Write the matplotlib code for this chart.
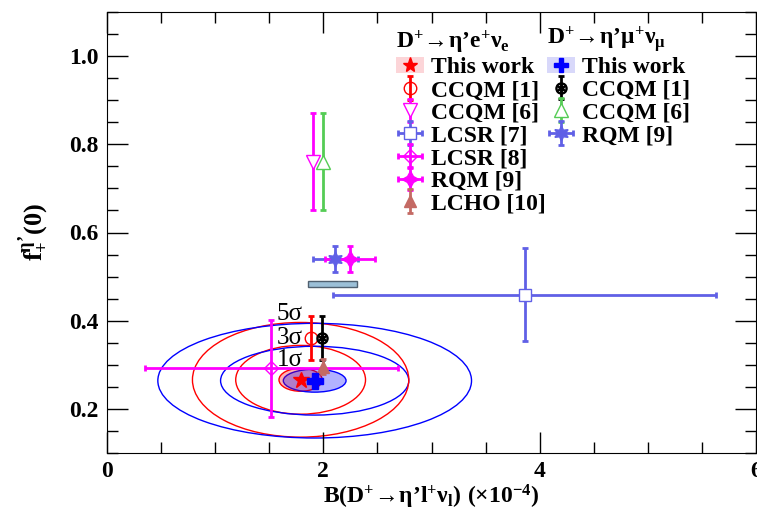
import matplotlib
matplotlib.use('Agg')
import matplotlib.pyplot as plt
from matplotlib.patches import Ellipse, Rectangle, Patch
from matplotlib.lines import Line2D
from matplotlib.ticker import MultipleLocator, FormatStrFormatter

plt.rcParams['font.family'] = ['Liberation Serif', 'DejaVu Serif']
plt.rcParams['mathtext.fontset'] = 'custom'
plt.rcParams['mathtext.rm'] = 'Liberation Serif:bold'
plt.rcParams['mathtext.it'] = 'Liberation Serif:bold'
plt.rcParams['mathtext.bf'] = 'Liberation Serif:bold'

# this work: centre (B, f+) and 1 sigma widths of the contours
tw_e = [1.79, 0.266]
tw_e_sig = [0.20, 0.026]
tw_mu = [1.92, 0.264]
tw_mu_sig = [0.29, 0.026]
n_sigma = [1, 3, 5]
sigma_labels = ['1σ', '3σ', '5σ']
sigma_label_y = [0.311, 0.361, 0.416]

# predictions: x, xerr, y, yerr
ccqm1_e = [1.89, None, 0.36, 0.05]
ccqm6_e = [1.90, None, 0.76, 0.11]
lcsr7_e = [3.86, 1.77, 0.459, 0.105]
lcsr8_e = [1.52, 1.17, 0.292, 0.11]
rqm9_e = [2.245, 0.23, 0.540, 0.029]
lcho10_e = [2.00, None, 0.296, 0.017]
ccqm1_mu = [1.99, None, 0.36, 0.05]
ccqm6_mu = [2.00, None, 0.76, 0.11]
rqm9_mu = [2.11, 0.21, 0.540, 0.029]

# grey band (not in the legend)
band_x = [1.855, 2.315]
band_y = [0.476, 0.490]

magenta = '#ff00ff'
slate = '#6060e6'
fs = 17

fig = plt.figure(figsize=(7.57, 5.12), dpi=100)
ax = fig.add_axes([107/757, 59/512, 649/757, 441/512])

# contours of this work
for n in n_sigma:
    ax.add_patch(Ellipse(tw_e, 2*n*tw_e_sig[0], 2*n*tw_e_sig[1], fill=False,
                         edgecolor='red', lw=1))
    ax.add_patch(Ellipse(tw_mu, 2*n*tw_mu_sig[0], 2*n*tw_mu_sig[1], fill=False,
                         edgecolor='blue', lw=1))
ax.add_patch(Ellipse(tw_e, 2*tw_e_sig[0], 2*tw_e_sig[1], facecolor='red',
                     alpha=0.3, edgecolor='none'))
ax.add_patch(Ellipse(tw_mu, 2*tw_mu_sig[0], 2*tw_mu_sig[1], facecolor='blue',
                     alpha=0.3, edgecolor='none'))
for lab, y in zip(sigma_labels, sigma_label_y):
    ax.text(1.57, y, lab, fontsize=18, va='center', ha='left')

ax.add_patch(Rectangle((band_x[0], band_y[0]), band_x[1]-band_x[0], band_y[1]-band_y[0],
                       facecolor='#9cc0d8', edgecolor='#506070', lw=1))


def pt(d, color, marker, ms, mfc=None, **kw):
    return ax.errorbar(d[0], d[2], xerr=d[1], yerr=d[3], color=color, marker=marker,
                       ms=ms, mfc=mfc if mfc else color, mec=color, elinewidth=2,
                       capsize=2, capthick=2, ls='none', **kw)


h_lcsr7 = pt(lcsr7_e, slate, 's', 9, mfc='white', zorder=3)
h_lcsr8 = pt(lcsr8_e, magenta, 'D', 7, mfc='none', zorder=3)
h_ccqm6e = pt(ccqm6_e, magenta, 'v', 10, mfc='white', zorder=3)
h_ccqm6m = pt(ccqm6_mu, '#55cc55', '^', 10, mfc='white', zorder=3)
h_rqm9m = pt(rqm9_mu, slate, (6, 1, 0), 11, zorder=3)
h_rqm9e = pt(rqm9_e, magenta, (4, 1, 0), 12, zorder=3)
h_ccqm1e = pt(ccqm1_e, 'red', 'o', 9, mfc='none', zorder=3)
h_ccqm1m = pt(ccqm1_mu, 'black', r'$\circledast$', 8, zorder=3)
h_lcho = pt(lcho10_e, '#c46a64', '^', 8, zorder=4)

ax.plot(tw_e[0], tw_e[1], marker='*', color='red', ms=12, ls='none', zorder=5)
ax.plot(tw_mu[0], tw_mu[1], marker='P', color='blue', ms=11, ls='none', zorder=5)

ax.set_xlim(0, 6)
ax.set_ylim(0.1, 1.1)
ax.xaxis.set_major_locator(MultipleLocator(2))
ax.xaxis.set_minor_locator(MultipleLocator(0.5))
ax.yaxis.set_major_locator(MultipleLocator(0.2))
ax.yaxis.set_minor_locator(MultipleLocator(0.05))
ax.yaxis.set_major_formatter(FormatStrFormatter('%.1f'))
ax.tick_params(which='both', direction='in', top=True, right=True, labelsize=fs, width=1)
ax.tick_params(which='major', length=15, pad=6)
ax.tick_params(which='minor', length=8)
for lab in ax.get_xticklabels() + ax.get_yticklabels():
    lab.set_fontweight('bold')

ax.set_xlabel("$\\mathregular{B(D^{+}\\!\\rightarrow\\!\\eta\u2019l^{+}\\nu_{l})\\ (\\times10^{-4})}$",
              fontsize=fs, fontweight='bold', labelpad=0)
ax.set_ylabel("$\\mathregular{f_{+}^{\\eta\u2019}(0)}$", fontsize=fs + 2,
              fontweight='bold', labelpad=13)

prop = dict(family='Liberation Serif', weight='bold', size=fs)
h_tw_e = (Patch(facecolor='#fcd5d8', edgecolor='none'),
          Line2D([], [], marker='*', color='red', ms=11, ls='none'))
h_tw_mu = (Patch(facecolor='#d8d8fa', edgecolor='none'),
           Line2D([], [], marker='P', color='blue', ms=10, ls='none'))

common = dict(prop=prop, frameon=False, handlelength=1.2, handletextpad=0.3,
              labelspacing=0.05, borderpad=0, borderaxespad=0, alignment='left',
              title_fontproperties=prop, loc='upper left', bbox_transform=fig.transFigure)
fig.legend([h_tw_e, h_ccqm1e, h_ccqm6e, h_lcsr7, h_lcsr8, h_rqm9e, h_lcho],
           ['This work', 'CCQM [1]', 'CCQM [6]', 'LCSR [7]', 'LCSR [8]', 'RQM [9]', 'LCHO [10]'],
           title="$\\mathregular{D^{+}\\!\\rightarrow\\!\\eta\u2019e^{+}\\nu_{e}}$",
           bbox_to_anchor=(396/757, 1 - 28/512), **common)
fig.legend([h_tw_mu, h_ccqm1m, h_ccqm6m, h_rqm9m],
           ['This work', 'CCQM [1]', 'CCQM [6]', 'RQM [9]'],
           title="$\\mathregular{D^{+}\\!\\rightarrow\\!\\eta\u2019\\mu^{+}\\nu_{\\mu}}$",
           bbox_to_anchor=(547/757, 1 - 25/512), **common)

fig.savefig('out.png', dpi=100)
